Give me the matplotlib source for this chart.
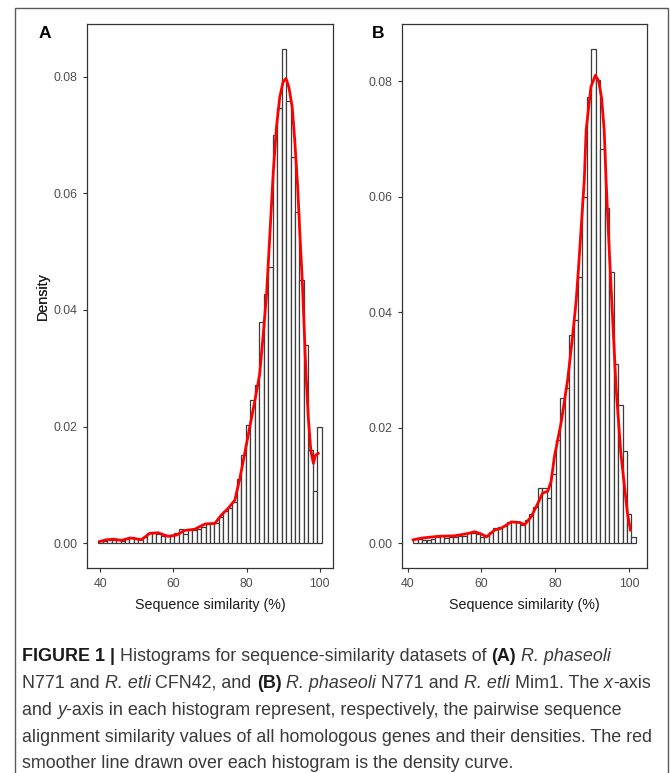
import numpy as np
import matplotlib.pyplot as plt
from matplotlib import font_manager
from matplotlib.patches import Rectangle

# ---- data ---------------------------------------------------------------
# panel A: 50 bins between 39.39 and 100.61
a_range = (39.39, 100.61)
a_density = [0.0004, 0.0004, 0.0006, 0.0006, 0.0005, 0.0004, 0.0007, 0.0011, 0.0008, 0.0008,
             0.0010, 0.0017, 0.0017, 0.0016, 0.0012, 0.0012, 0.0013, 0.0017, 0.0024, 0.0016,
             0.0022, 0.0023, 0.0025, 0.0028, 0.0035, 0.0035, 0.0034, 0.0045, 0.0055, 0.0060,
             0.0070, 0.0111, 0.0151, 0.0202, 0.0245, 0.0271, 0.0380, 0.0428, 0.0474, 0.0700,
             0.0747, 0.0848, 0.0758, 0.0663, 0.0568, 0.0451, 0.0340, 0.0160, 0.0090, 0.0200]
a_curve_x = [39.8, 41.6, 43.5, 45.8, 48.0, 49.5, 51.2, 53.5, 55.8, 58.5, 60.8, 63.1, 65.8,
             68.6, 71.3, 73.2, 75.0, 76.8, 78.2, 79.5, 80.9, 82.3, 83.6, 84.6, 85.5, 86.4,
             87.3, 88.2, 89.1, 90.0, 90.8, 91.6, 92.5, 93.2, 94.0, 94.6, 95.3, 96.2, 96.9,
             97.6, 98.3, 98.9, 99.6]
a_curve_y = [0.0003, 0.0006, 0.0007, 0.0005, 0.0009, 0.0008, 0.0006, 0.0017, 0.0018, 0.0012,
             0.0014, 0.0022, 0.0024, 0.0033, 0.0034, 0.0049, 0.0060, 0.0074, 0.0112, 0.0154,
             0.0200, 0.0245, 0.0290, 0.0360, 0.0428, 0.0531, 0.0634, 0.0714, 0.0765, 0.0791,
             0.0797, 0.0782, 0.0748, 0.0691, 0.0611, 0.0531, 0.0445, 0.0302, 0.0216, 0.0159,
             0.0137, 0.0151, 0.0154]

# panel B: 50 bins between 41.50 and 101.88
b_range = (41.50, 101.88)
b_density = [0.0007, 0.0007, 0.0006, 0.0006, 0.0007, 0.0010, 0.0014, 0.0009, 0.0010, 0.0010,
             0.0012, 0.0012, 0.0018, 0.0017, 0.0016, 0.0011, 0.0014, 0.0020, 0.0026, 0.0029,
             0.0030, 0.0037, 0.0037, 0.0036, 0.0031, 0.0040, 0.0050, 0.0063, 0.0095, 0.0095,
             0.0078, 0.0120, 0.0179, 0.0251, 0.0268, 0.0360, 0.0386, 0.0461, 0.0600, 0.0773,
             0.0856, 0.0802, 0.0682, 0.0580, 0.0470, 0.0310, 0.0240, 0.0160, 0.0050, 0.0010]
b_curve_x = [41.5, 43.8, 48.3, 52.8, 56.4, 58.2, 60.0, 61.4, 63.6, 65.4, 68.1, 70.4, 71.7,
             73.5, 75.3, 76.6, 78.0, 78.9, 79.8, 81.6, 83.4, 84.8, 85.7, 86.3, 87.2, 87.9,
             88.4, 89.7, 90.9, 91.8, 92.6, 93.3, 93.8, 94.7, 95.6, 96.5, 97.8, 99.6, 100.4]
b_curve_y = [0.0006, 0.0009, 0.0012, 0.0013, 0.0017, 0.0020, 0.0016, 0.0011, 0.0023, 0.0026,
             0.0037, 0.0036, 0.0032, 0.0046, 0.0069, 0.0087, 0.0090, 0.0107, 0.0150, 0.0208,
             0.0283, 0.0363, 0.0420, 0.0473, 0.0560, 0.0629, 0.0715, 0.0790, 0.0810, 0.0800,
             0.0770, 0.0715, 0.0629, 0.0502, 0.0387, 0.0271, 0.0156, 0.0052, 0.0023]

panels = [("A", a_range, a_density, a_curve_x, a_curve_y),
          ("B", b_range, b_density, b_curve_x, b_curve_y)]

x_ticks = [40, 60, 80, 100]
y_ticks = [0.00, 0.02, 0.04, 0.06, 0.08]

# ---- figure ---------------------------------------------------------------
W, H = 670, 773
fig = plt.figure(figsize=(W / 100, H / 100), dpi=100)
plt.rcParams['font.family'] = ['Liberation Sans', 'DejaVu Sans']

axes_px = [(87, 24, 333, 568), (402, 24, 647, 568)]   # left, top, right, bottom
label_px = [(45, 33), (378, 33)]

for (name, rng, dens, cx, cy), (l, t, r, b), (lx, ly) in zip(panels, axes_px, label_px):
    ax = fig.add_axes([l / W, 1 - b / H, (r - l) / W, (b - t) / H])
    edges = np.linspace(rng[0], rng[1], len(dens) + 1)
    ax.bar(edges[:-1], dens, width=np.diff(edges), align='edge',
           facecolor='white', edgecolor='#3c3c3c', linewidth=0.9)
    ax.plot(cx, cy, color='#ff0000', linewidth=2.0, solid_joinstyle='round')

    span = rng[1] - rng[0]
    ax.set_xlim(rng[0] - 0.05 * span, rng[1] + 0.05 * span)
    top = max(max(dens), max(cy))
    ax.set_ylim(-0.05 * top, 1.05 * top)
    ax.set_xticks(x_ticks)
    ax.set_yticks(y_ticks)
    ax.set_yticklabels([f"{v:.2f}" for v in y_ticks])
    ax.tick_params(direction='out', length=2.8, width=0.8, color='#333333',
                   pad=4.2, labelsize=8.8, labelcolor='#4d4d4d')
    for s in ax.spines.values():
        s.set_color('#333333')
        s.set_linewidth(0.9)

    ax.set_xlabel('Sequence similarity (%)', fontsize=10.3, color='#1a1a1a')
    ax.set_ylabel('Density', fontsize=10.3, color='#1a1a1a')
    ax.xaxis.set_label_coords(0.5, -(598 - b) / (b - t))
    ax.yaxis.set_label_coords(-(l - 50) / (r - l), 0.5)

    fig.text(lx / W, 1 - ly / H, name, ha='center', va='center',
             fontsize=12.5, fontweight='bold', color='black')

# outer frame of the figure panel
fig.patches.append(Rectangle((15 / W, -0.01), (668 - 15) / W, 1.01 - 8 / H,
                             transform=fig.transFigure, fill=False,
                             edgecolor='#5a5a5a', linewidth=1.0))

# ---- caption --------------------------------------------------------------
names = {f.name for f in font_manager.fontManager.ttflist}
cap_font = 'Liberation Sans Narrow' if 'Liberation Sans Narrow' in names else 'Liberation Sans'

N, Bd, It = 'normal', 'bold', 'italic'
caption = [
    [("FIGURE 1 |", Bd), (" Histograms for sequence-similarity datasets of ", N),
     ("(A)", Bd), (" ", N), ("R. phaseoli", It)],
    [("N771 and ", N), ("R. etli", It), (" CFN42, and ", N), ("(B)", Bd), (" ", N),
     ("R. phaseoli", It), (" N771 and ", N), ("R. etli", It), (" Mim1. The ", N),
     ("x", It), ("-axis", N)],
    [("and ", N), ("y", It), ("-axis in each histogram represent, respectively, the pairwise sequence", N)],
    [("alignment similarity values of all homologous genes and their densities. The red", N)],
    [("smoother line drawn over each histogram is the density curve.", N)],
]
baselines = [661, 688, 715, 742, 768]
renderer = fig.canvas.get_renderer()


def caption_line(runs, yb, size, x0=22):
    x = x0
    drawn = []
    for txt, kind in runs:
        t = fig.text(x / W, 1 - yb / H, txt, ha='left', va='baseline',
                     fontsize=size, family=[cap_font, 'DejaVu Sans'],
                     fontweight='bold' if kind == Bd else 'normal',
                     fontstyle='italic' if kind == It else 'normal',
                     color='#1a1a1a' if kind == Bd else '#3a3a3a')
        x += t.get_window_extent(renderer).width
        drawn.append(t)
    return x - x0, drawn


# size the caption so that its second line spans ~628 px, as in the reference
w, tmp = caption_line(caption[1], baselines[1], 12)
for t in tmp:
    t.remove()
cap_size = 12 * 628 / w

for runs, yb in zip(caption, baselines):
    caption_line(runs, yb, cap_size)

fig.savefig('out.png', dpi=100)
